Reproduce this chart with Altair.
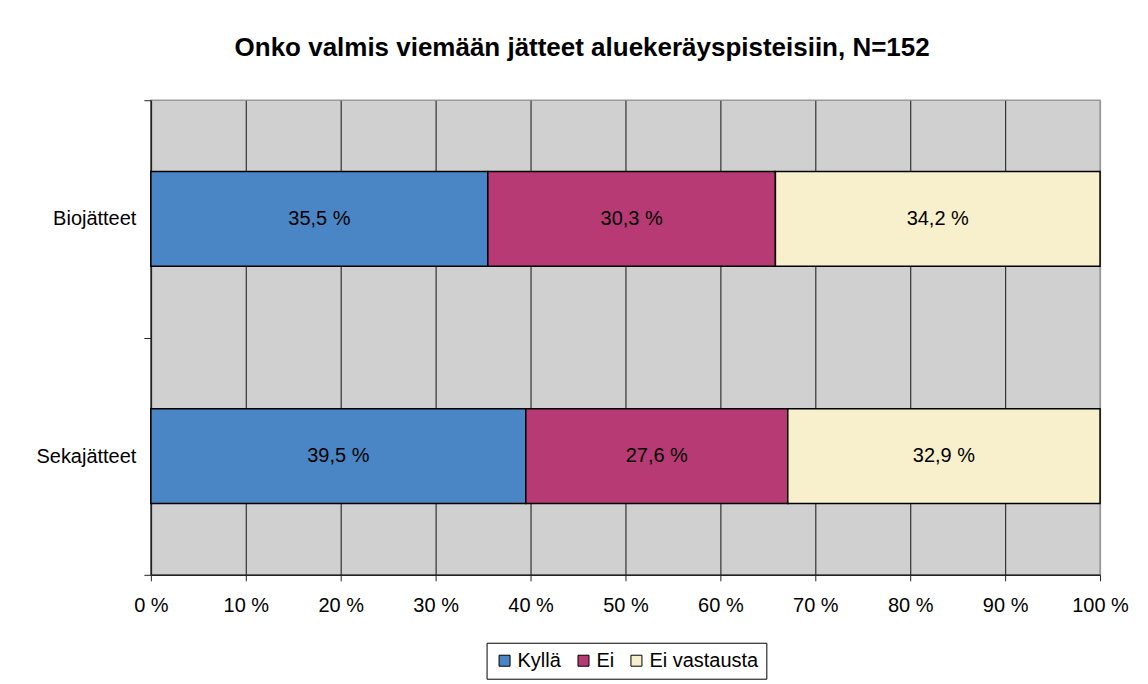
import altair as alt
import pandas as pd

categories = ["Biojätteet", "Sekajätteet"]
responses = ["Kyllä", "Ei", "Ei vastausta"]
kylla = [35.5, 39.5]
ei = [30.3, 27.6]
ei_vastausta = [34.2, 32.9]
x_ticks = [0, 10, 20, 30, 40, 50, 60, 70, 80, 90, 100]
colors = ["#4A86C5", "#B73A74", "#F8F0CC"]
title_text = "Onko valmis viemään jätteet aluekeräyspisteisiin, N=152"

rows = []
series = [kylla, ei, ei_vastausta]
for i, c in enumerate(categories):
    for j, r in enumerate(responses):
        rows.append({"category": c, "response": r, "order": j, "value": series[j][i]})
df = pd.DataFrame(rows)

FONT = "Liberation Sans"

base = alt.Chart(df).transform_stack(
    stack="value", groupby=["category"], as_=["x0", "x1"],
    sort=[alt.SortField("order", order="ascending")]
).transform_calculate(
    mid="(datum.x0 + datum.x1) / 2",
    label="replace(format(datum.value, '.1f'), '.', ',') + ' %'"
)

y_enc = alt.Y(
    "category:N", sort=categories, title=None,
    scale=alt.Scale(paddingInner=0, paddingOuter=0),
    axis=alt.Axis(tickBand="extent", labelFontSize=20, labelFont=FONT, labelColor="black",
                  tickSize=7, tickColor="#222222", domainColor="#222222", domainWidth=1.5,
                  labelPadding=8, grid=False),
)

x_axis = alt.Axis(
    values=x_ticks, labelExpr="datum.value + ' %'", labelFontSize=20, labelFont=FONT,
    labelColor="black", tickSize=6, tickColor="#222222", domainColor="#222222", domainWidth=1.5,
    labelPadding=15, grid=True,
    gridColor={"condition": {"test": "datum.value >= 100", "value": "#9a9a9a"}, "value": "#333333"},
    gridWidth=1.2, labelFlush=False,
)

bars = base.mark_bar(stroke="black", strokeWidth=1.5, height={"band": 0.4}).encode(
    x=alt.X("x0:Q", scale=alt.Scale(domain=[0, 100], nice=False), axis=x_axis, title=None),
    x2="x1:Q",
    y=y_enc,
    color=alt.Color(
        "response:N",
        scale=alt.Scale(domain=responses, range=colors),
        legend=alt.Legend(
            title=None, orient="none", legendX=336, legendY=543, direction="horizontal",
            symbolType="square", symbolSize=121, symbolStrokeColor="black", symbolStrokeWidth=1,
            labelFontSize=20, labelFont=FONT, labelColor="black", labelOffset=3,
            columnPadding=12, padding=8, strokeColor="black", fillColor="white",
        ),
    ),
    order=alt.Order("order:Q"),
)

text = base.mark_text(fontSize=20, font=FONT, color="black", baseline="middle", align="center").encode(
    x=alt.X("mid:Q", title=None),
    y=alt.Y("category:N", sort=categories, title=None),
    text="label:N",
)

chart = alt.layer(bars, text).properties(
    width=950, height=475,
    padding={"left": 143, "top": 92, "right": 40, "bottom": 110},
    autosize="none",
    background="white",
    title=alt.Title(title_text, fontSize=26, fontWeight="bold", font=FONT, color="black",
                    anchor="middle", frame="bounds", offset=8, baseline="alphabetic"),
).configure_view(fill="#D0D0D0", stroke="#9a9a9a", strokeWidth=1.5)

chart.save("out.html", embed_options={"renderer": "svg", "actions": False})
